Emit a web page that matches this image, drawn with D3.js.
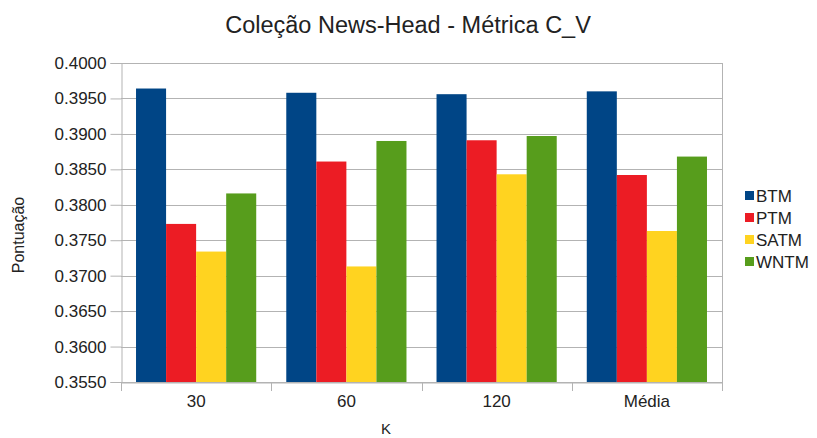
<!DOCTYPE html>
<html>
<head>
<meta charset="utf-8">
<script src="https://cdn.jsdelivr.net/npm/d3@7/dist/d3.min.js"></script>
<style>
  html, body { margin: 0; padding: 0; background: #fff; }
  svg { display: block; font-family: "Liberation Sans", Arial, sans-serif; }
</style>
</head>
<body>
<svg id="chart" width="817" height="438"></svg>
<script>
// Categories (K) and series
const categories = ["30", "60", "120", "Média"];
const seriesNames = ["BTM", "PTM", "SATM", "WNTM"];
const btm  = [0.3964, 0.3958, 0.3956, 0.3960];
const ptm  = [0.3773, 0.3861, 0.3891, 0.3842];
const satm = [0.3734, 0.3713, 0.3843, 0.3763];
const wntm = [0.3816, 0.3890, 0.3897, 0.3868];
const yTicks = [0.3550, 0.3600, 0.3650, 0.3700, 0.3750, 0.3800, 0.3850, 0.3900, 0.3950, 0.4000];
const colors = ["#004586", "#ec1c24", "#ffd320", "#579d1c"];

const seriesValues = [btm, ptm, satm, wntm];

const svg = d3.select("#chart");
const plot = { left: 121, right: 722, top: 63, bottom: 382 };

const y = d3.scaleLinear().domain([0.3550, 0.4000]).range([plot.bottom, plot.top]);
const x0 = d3.scaleBand().domain(categories).range([plot.left, plot.right]).padding(0);
const bw = x0.bandwidth();
const x1 = d3.scaleBand().domain(seriesNames).range([bw * 0.1, bw * 0.9]).padding(0);

// Horizontal grid lines
svg.append("g")
  .selectAll("line")
  .data(yTicks)
  .join("line")
  .attr("x1", plot.left).attr("x2", plot.right)
  .attr("y1", d => Math.round(y(d)) + 0.5).attr("y2", d => Math.round(y(d)) + 0.5)
  .attr("stroke", "#b3b3b3").attr("stroke-width", 1);

// Right border of plot area
svg.append("line")
  .attr("x1", plot.right + 0.5).attr("x2", plot.right + 0.5)
  .attr("y1", plot.top).attr("y2", plot.bottom)
  .attr("stroke", "#b3b3b3");

// Bars
const groups = svg.append("g")
  .selectAll("g")
  .data(categories)
  .join("g")
  .attr("transform", d => `translate(${x0(d)},0)`);

groups.selectAll("rect")
  .data((c, i) => seriesNames.map((s, j) => ({ s, v: seriesValues[j][i], color: colors[j] })))
  .join("rect")
  .attr("x", d => x1(d.s))
  .attr("width", x1.bandwidth())
  .attr("y", d => y(d.v))
  .attr("height", d => y(0.3550) - y(d.v))
  .attr("fill", d => d.color);

// Y axis
const yAxis = d3.axisLeft(y)
  .tickValues(yTicks)
  .tickFormat(d3.format(".4f"))
  .tickSize(11)
  .tickPadding(4);
const gy = svg.append("g")
  .attr("transform", `translate(${plot.left + 0.5},0)`)
  .call(yAxis);
gy.select(".domain").attr("stroke", "#b3b3b3");
gy.selectAll(".tick line").attr("stroke", "#b3b3b3");
gy.selectAll(".tick text")
  .attr("font-size", 17).attr("fill", "#222")
  .attr("font-family", "Liberation Sans, Arial, sans-serif");

// X axis: category boundaries get tick marks
const xAxis = d3.axisBottom(x0).tickSize(0).tickPadding(12);
const gx = svg.append("g")
  .attr("transform", `translate(0,${plot.bottom + 0.5})`)
  .call(xAxis);
gx.select(".domain").attr("stroke", "#b3b3b3");
gx.selectAll(".tick text")
  .attr("font-size", 17).attr("fill", "#222")
  .attr("font-family", "Liberation Sans, Arial, sans-serif");

const boundaries = categories.map(c => x0(c)).concat([x0(categories[categories.length - 1]) + bw]);
svg.append("g")
  .selectAll("line")
  .data(boundaries)
  .join("line")
  .attr("x1", d => Math.round(d) + 0.5).attr("x2", d => Math.round(d) + 0.5)
  .attr("y1", plot.bottom).attr("y2", plot.bottom + 9)
  .attr("stroke", "#b3b3b3");

// Title
svg.append("text")
  .attr("x", 408).attr("y", 33)
  .attr("text-anchor", "middle")
  .attr("font-size", 23.5).attr("fill", "#222")
  .text("Coleção News-Head - Métrica C_V");

// Axis titles
svg.append("text")
  .attr("x", 386).attr("y", 434)
  .attr("text-anchor", "middle")
  .attr("font-size", 15).attr("fill", "#222")
  .text("K");

svg.append("text")
  .attr("transform", "translate(24,235) rotate(-90)")
  .attr("text-anchor", "middle")
  .attr("font-size", 16).attr("fill", "#222")
  .text("Pontuação");

// Legend
const legend = svg.append("g")
  .selectAll("g")
  .data(seriesNames)
  .join("g")
  .attr("transform", (d, i) => `translate(745,${196 + i * 22})`);
legend.append("rect")
  .attr("x", 0).attr("y", -5).attr("width", 9).attr("height", 9)
  .attr("fill", (d, i) => colors[i]);
legend.append("text")
  .attr("x", 11).attr("y", 6)
  .attr("font-size", 17).attr("fill", "#222")
  .text(d => d);
</script>
</body>
</html>
